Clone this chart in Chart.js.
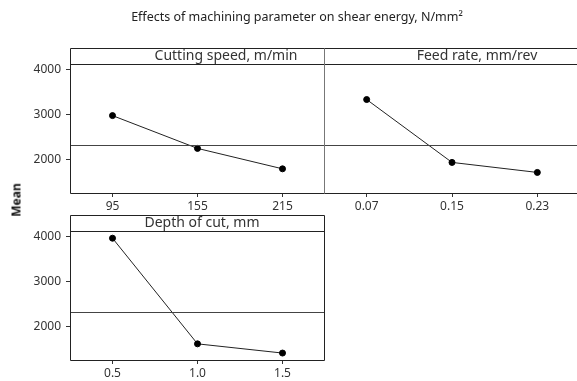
<!DOCTYPE html>
<html>
<head>
<meta charset="utf-8">
<script src="https://cdn.jsdelivr.net/npm/chart.js@4.4.0/dist/chart.umd.min.js"></script>
<style>
  body { margin: 0; background: #fff; }
  #wrap { position: relative; width: 577px; height: 381px; overflow: hidden; }
  canvas { position: absolute; left: 0; top: 0; }
  #title { position: absolute; top: 8px; left: 297px; transform: translateX(-50%); white-space: nowrap;
           font: 12.5px "Noto Sans", sans-serif; color: #222; }
  #ylab { position: absolute; left: 16px; top: 200px; transform: translate(-50%, -50%) rotate(-90deg);
          font: bold 12px "Noto Sans", sans-serif; color: #111; }
</style>
</head>
<body>
<div id="wrap">
  <canvas id="c1" width="577" height="381"></canvas>
  <canvas id="c2" width="600" height="381"></canvas>
  <canvas id="c3" width="577" height="381"></canvas>
  <div id="title">Effects of machining parameter on shear energy, N/mm²</div>
  <div id="ylab">Mean</div>
</div>
<script>
// data
var speedLabels = ['95', '155', '215'];
var speedMeans = [2971, 2244, 1791];
var feedLabels = ['0.07', '0.15', '0.23'];
var feedMeans = [3327, 1933, 1711];
var depthLabels = ['0.5', '1.0', '1.5'];
var depthMeans = [3955, 1613, 1409];
var grandMean = 2325;
var yTicks = [2000, 3000, 4000];

var tickFont = { family: 'Noto Sans', size: 12 };

// panel frame: strip header, border and the grand mean line
var panelFrame = {
  id: 'panelFrame',
  afterDraw: function(chart, args, opts) {
    var ctx = chart.ctx, a = chart.chartArea;
    var y = chart.scales.y.getPixelForValue(grandMean);
    var l = a.left + 0.5, r = a.right - 0.5, t = a.top - 16 + 0.5, b = a.bottom + 0.5;
    ctx.save();
    ctx.lineWidth = 1;
    // mean line
    ctx.strokeStyle = '#444';
    ctx.beginPath();
    ctx.moveTo(a.left, Math.round(y) + 0.5);
    ctx.lineTo(a.right, Math.round(y) + 0.5);
    ctx.stroke();
    // strip line
    ctx.strokeStyle = '#222';
    ctx.beginPath();
    ctx.moveTo(a.left, a.top + 0.5);
    ctx.lineTo(a.right, a.top + 0.5);
    ctx.stroke();
    // box: top, bottom, right
    ctx.beginPath();
    ctx.moveTo(l, t); ctx.lineTo(r, t);
    ctx.moveTo(l, b); ctx.lineTo(r, b);
    if (!opts.openRight) { ctx.moveTo(r, t); ctx.lineTo(r, b); }
    ctx.stroke();
    // left side
    ctx.strokeStyle = opts.border || '#222';
    ctx.beginPath();
    ctx.moveTo(l, t); ctx.lineTo(l, b);
    ctx.stroke();
    // strip text
    ctx.fillStyle = '#333';
    ctx.font = '14px "Noto Sans"';
    ctx.textAlign = 'center';
    ctx.textBaseline = 'middle';
    ctx.fillText(opts.label, opts.labelX, a.top - 8);
    ctx.restore();
  }
};

function makePanel(id, labels, values, label, labelX, pad, xHeight, showY, border, openRight) {
  return new Chart(document.getElementById(id), {
    type: 'line',
    data: {
      labels: labels,
      datasets: [{
        data: values,
        borderColor: '#222',
        borderWidth: 1,
        pointRadius: 3,
        pointBackgroundColor: '#000',
        pointBorderColor: '#000',
        tension: 0
      }]
    },
    plugins: [panelFrame],
    options: {
      responsive: false,
      animation: false,
      layout: { padding: pad },
      plugins: {
        legend: { display: false },
        tooltip: { enabled: false },
        panelFrame: { label: label, labelX: labelX, border: border, openRight: openRight }
      },
      scales: {
        x: {
          type: 'category',
          offset: true,
          border: { display: false },
          grid: { drawOnChartArea: false, tickLength: 4, tickColor: '#333', offset: false },
          ticks: { color: '#333', font: tickFont, padding: 2, maxRotation: 0 },
          afterFit: function(s) { s.height = xHeight; }
        },
        y: {
          display: showY,
          min: 1255,
          max: 4115,
          border: { display: false },
          grid: { drawOnChartArea: false, tickLength: 4, tickColor: '#333' },
          ticks: { color: '#333', font: tickFont, padding: 5, callback: function(v) { return String(v); } },
          afterBuildTicks: function(s) { s.ticks = yTicks.map(function(v) { return { value: v }; }); },
          afterFit: function(s) { s.width = 70; }
        }
      }
    }
  });
}

makePanel('c1', speedLabels, speedMeans, 'Cutting speed, m/min', 226, { top: 64, left: 0, right: 252, bottom: 0 }, 188, true, '#222', false);
makePanel('c2', feedLabels, feedMeans, 'Feed rate, mm/rev', 477, { top: 64, left: 254, right: 20, bottom: 0 }, 188, false, '#777', true);
makePanel('c3', depthLabels, depthMeans, 'Depth of cut, mm', 202, { top: 231, left: 0, right: 252, bottom: 0 }, 21, true, '#222', false);
</script>
</body>
</html>
